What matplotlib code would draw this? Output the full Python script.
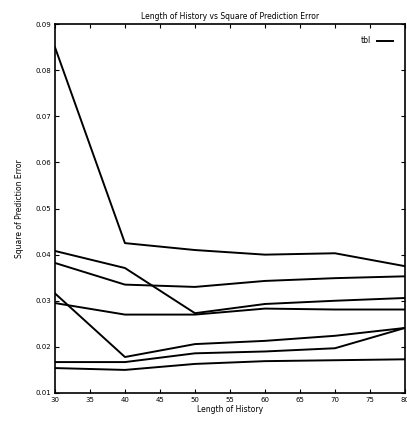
import matplotlib.pyplot as plt
import numpy as np

history = [30, 40, 50, 60, 70, 80]
err_a = [0.0850, 0.0425, 0.0410, 0.0400, 0.0403, 0.0375]
err_b = [0.0408, 0.0371, 0.0273, 0.0293, 0.0300, 0.0306]
err_c = [0.0382, 0.0335, 0.0330, 0.0343, 0.0349, 0.0353]
err_d = [0.0316, 0.0178, 0.0206, 0.0213, 0.0224, 0.0241]
err_e = [0.0295, 0.0270, 0.0270, 0.0283, 0.0281, 0.0281]
err_f = [0.0167, 0.0167, 0.0186, 0.0190, 0.0197, 0.0241]
err_g = [0.0154, 0.0150, 0.0163, 0.0169, 0.0171, 0.0173]

fig = plt.figure(figsize=(4.07, 4.23), dpi=100)
ax = fig.add_axes([0.135, 0.071, 0.86, 0.872])

ax.plot(history, err_a, color='black', lw=1.4, label='tbl')
for s in [err_b, err_c, err_d, err_e, err_f, err_g]:
    ax.plot(history, s, color='black', lw=1.4)

ax.set_xlim(30, 80)
ax.set_ylim(0.01, 0.09)
ax.set_xticks(np.arange(30, 81, 5))
ax.set_yticks(np.arange(0.01, 0.091, 0.01))
ax.set_yticklabels(['%.2f' % v for v in np.arange(0.01, 0.091, 0.01)])
ax.tick_params(direction='in', top=True, right=True, labelsize=5, length=3, pad=3)
for sp in ax.spines.values():
    sp.set_linewidth(1.2)
ax.set_title('Length of History vs Square of Prediction Error', fontsize=5.5, pad=4)
ax.set_xlabel('Length of History', fontsize=5.5, labelpad=1)
ax.set_ylabel('Square of Prediction Error', fontsize=5.5, labelpad=8)
ax.legend(loc='upper right', frameon=False, fontsize=5.5, handlelength=2,
          markerfirst=False, borderaxespad=1.2)

fig.savefig('out.png', dpi=100)
